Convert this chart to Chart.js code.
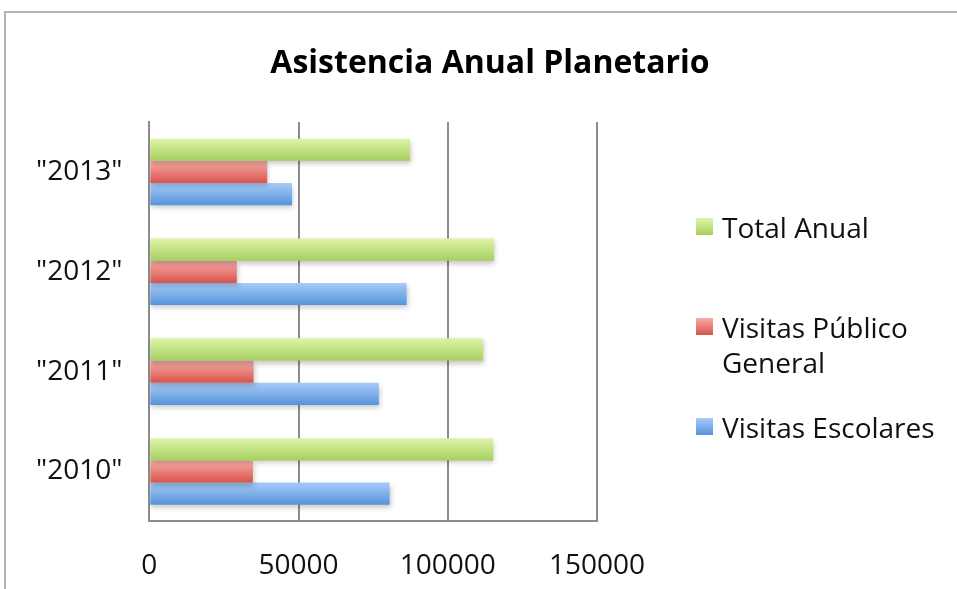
<!DOCTYPE html>
<html>
<head>
<meta charset="utf-8">
<script src="https://cdn.jsdelivr.net/npm/chart.js@4"></script>
<style>
  html, body { margin: 0; padding: 0; background: #fff; overflow: hidden; }
  #frame {
    position: absolute; left: 4px; top: 11px;
    width: 985px; height: 600px;
    border-left: 2px solid #b4b4b4; border-top: 2px solid #b4b4b4;
  }
</style>
</head>
<body>
<div id="frame"><canvas id="myChart"></canvas></div>
<script>
var chartTitle = 'Asistencia Anual Planetario';
var years = ['"2013"', '"2012"', '"2011"', '"2010"'];
var totalAnual = [87300, 115500, 111800, 115200];
var publicoGeneral = [39500, 29300, 34900, 34700];
var escolares = [47800, 86200, 76900, 80500];
var seriesNames = [['Total Anual'], ['Visitas Público', 'General'], ['Visitas Escolares']];
var xTicks = [0, 50000, 100000, 150000];

// top / bottom colour of each bar's vertical gradient
var shades = [
  ['#def4a8', '#a6cf60'],
  ['#f8aca7', '#d8544c'],
  ['#a8cbf8', '#5594da']
];

var fontFamily = '"Open Sans", Lato, sans-serif';

function shadeGradient(ctx, i, y0, y1) {
  var g = ctx.createLinearGradient(0, y0, 0, y1);
  g.addColorStop(0, shades[i][0]);
  g.addColorStop(1, shades[i][1]);
  return g;
}

// bars of one dataset share an options object, so one gradient per dataset
// is built with a top->bottom ramp for every bar it contains
var gradientBars = {
  id: 'gradientBars',
  beforeDatasetsDraw: function (chart) {
    var ctx = chart.ctx, area = chart.chartArea;
    var H = area.bottom - area.top;
    chart.data.datasets.forEach(function (ds, i) {
      var bars = chart.getDatasetMeta(i).data.slice().sort(function (a, b) { return a.y - b.y; });
      var g = ctx.createLinearGradient(0, area.top, 0, area.bottom);
      bars.forEach(function (bar) {
        var h = bar.height / 2;
        var t0 = Math.min(Math.max((bar.y - h - area.top) / H, 0), 1);
        var t1 = Math.min(Math.max((bar.y + h - area.top) / H, 0), 1);
        g.addColorStop(t0, shades[i][0]);
        g.addColorStop(t1, shades[i][1]);
      });
      bars.forEach(function (bar) { bar.options.backgroundColor = g; });
    });
  },
  beforeDatasetDraw: function (chart) {
    var ctx = chart.ctx;
    ctx.save();
    ctx.shadowColor = 'rgba(0,0,0,0.22)';
    ctx.shadowBlur = 5;
    ctx.shadowOffsetX = 1;
    ctx.shadowOffsetY = 3;
  },
  afterDatasetDraw: function (chart) {
    chart.ctx.restore();
  }
};

// title over the whole frame and the legend to the right of the plot
var sideLegend = {
  id: 'sideLegend',
  afterDraw: function (chart) {
    var ctx = chart.ctx, area = chart.chartArea;
    ctx.save();
    ctx.textBaseline = 'middle';
    ctx.textAlign = 'center';
    ctx.fillStyle = '#000';
    ctx.font = 'bold 32px ' + fontFamily;
    ctx.fillText(chartTitle, 484, 51);

    var boxX = area.right + 99, textX = boxX + 26;
    var rowY = area.top + 108, step = 100, lineH = 35;
    ctx.font = '28px ' + fontFamily;
    ctx.textAlign = 'left';
    seriesNames.forEach(function (lines, i) {
      var y = rowY + i * step;
      ctx.fillStyle = shadeGradient(ctx, i, y - 12, y + 5);
      ctx.fillRect(boxX, y - 12, 17, 17);
      ctx.fillStyle = '#111';
      lines.forEach(function (txt, k) {
        ctx.fillText(txt, textX, y + k * lineH);
      });
    });
    ctx.restore();
  }
};

var labelFont = { family: fontFamily, size: 28 };

var ctx = document.getElementById('myChart').getContext('2d');
var myChart = new Chart(ctx, {
  type: 'bar',
  plugins: [gradientBars, sideLegend],
  data: {
    labels: years,
    datasets: [{
        label: 'Total Anual',
        data: totalAnual,
        backgroundColor: shades[0][1]
      }, {
        label: 'Visitas Público General',
        data: publicoGeneral,
        backgroundColor: shades[1][1]
      }, {
        label: 'Visitas Escolares',
        data: escolares,
        backgroundColor: shades[2][1]
      }
    ]
  },
  options: {
    indexAxis: 'y',
    responsive: true,
    maintainAspectRatio: false,
    animation: false,
    categoryPercentage: 0.667,
    barPercentage: 1.0,
    layout: { padding: { left: 3, right: 394, top: 109, bottom: 2 } },
    scales: {
      x: {
        min: 0,
        max: 150000,
        afterBuildTicks: function (axis) {
          axis.ticks = xTicks.map(function (v) { return { value: v }; });
        },
        grid: { color: '#8c8c8c', lineWidth: 2, drawTicks: false },
        border: { color: '#8c8c8c', width: 2 },
        ticks: {
          color: '#111', font: labelFont, padding: 28, maxRotation: 0,
          callback: function (v) { return String(v); }
        }
      },
      y: {
        grid: { display: false, drawTicks: false },
        border: { color: '#8c8c8c', width: 2 },
        ticks: { color: '#111', font: labelFont, padding: 27 }
      }
    },
    plugins: {
      title: { display: false },
      legend: { display: false },
      tooltip: { enabled: false }
    }
  }
});
</script>
</body>
</html>
